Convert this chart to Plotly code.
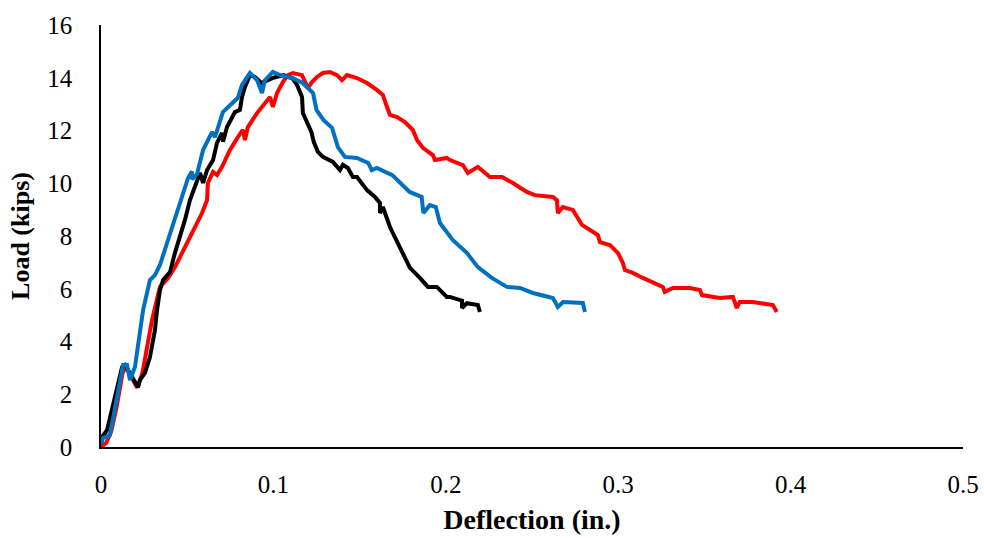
import plotly.graph_objects as go

# Black specimen
black_x = [0, 0.0006, 0.0035, 0.0064, 0.0093, 0.0122, 0.0139, 0.018, 0.0197, 0.0215, 0.0226, 0.0255, 0.0284,
           0.0313, 0.0325, 0.0342, 0.036, 0.040, 0.0429, 0.0458, 0.0487, 0.0516, 0.0574, 0.0592, 0.0615, 0.065,
           0.0673, 0.0702, 0.0708, 0.0731, 0.0777, 0.0806, 0.0818, 0.0835, 0.0864, 0.0893, 0.093, 0.100, 0.106,
           0.1079, 0.111, 0.1137, 0.1166, 0.1171, 0.120, 0.122, 0.1235, 0.1258, 0.1287, 0.1345, 0.1386, 0.1403,
           0.1432, 0.1461, 0.1485, 0.1543, 0.1589, 0.1618, 0.1618, 0.1635, 0.1676, 0.1734, 0.1792, 0.185,
           0.1896, 0.1948, 0.2006, 0.2024, 0.2094, 0.2094, 0.2122, 0.2186, 0.2198]
black_y = [0.1, 0.38, 0.64, 1.40, 2.27, 3.03, 3.11, 2.65, 2.43, 2.27, 2.54, 2.81, 3.41,
           4.44, 5.19, 5.95, 6.33, 6.63, 7.36, 7.96, 8.61, 9.36, 10.39, 10.01, 10.50, 10.88,
           11.53, 11.91, 11.57, 12.13, 12.70, 12.78, 13.27, 13.65, 14.10, 14.03, 13.80, 14.00, 14.10,
           14.03, 13.99, 13.73, 13.27, 12.66, 12.21, 11.95, 11.55, 11.19, 11.00, 10.81, 10.50, 10.70,
           10.58, 10.24, 10.24, 9.74, 9.48, 9.25, 8.87, 9.10, 8.34, 7.58, 6.79, 6.41,
           6.07, 6.07, 5.69, 5.69, 5.55, 5.27, 5.45, 5.38, 5.12]

# Blue specimen
blue_x = [0, 0.0012, 0.0052, 0.0081, 0.011, 0.0128, 0.0151, 0.0168, 0.0197, 0.0215, 0.0226, 0.0244, 0.0284,
          0.0313, 0.0342, 0.0383, 0.0418, 0.0458, 0.0505, 0.0528, 0.0528, 0.0557, 0.0592, 0.0644, 0.0661,
          0.0707, 0.0777, 0.0794, 0.0818, 0.0864, 0.0905, 0.0934, 0.0951, 0.0997, 0.1038, 0.1079, 0.111,
          0.117, 0.123, 0.125, 0.129, 0.134, 0.1374, 0.1415, 0.1485, 0.155, 0.1571, 0.160, 0.169, 0.179,
          0.186, 0.187, 0.1907, 0.1942, 0.1966, 0.204, 0.2122, 0.2186, 0.2267, 0.2354, 0.243, 0.2505,
          0.2621, 0.265, 0.268, 0.2795, 0.2807]
blue_y = [0.1, 0.34, 0.45, 1.40, 2.54, 3.11, 3.11, 2.54, 3.03, 3.94, 4.44, 5.19, 6.33,
          6.52, 6.90, 7.73, 8.49, 9.36, 10.20, 10.45, 10.15, 10.35, 11.26, 11.94, 11.75,
          12.70, 13.16, 13.24, 13.73, 14.18, 13.91, 13.42, 13.91, 14.22, 14.10, 14.03, 13.99,
          13.80, 13.42, 12.78, 12.40, 12.10, 11.37, 11.00, 10.96, 10.77, 10.50, 10.58, 10.31, 9.67,
          9.48, 8.87, 9.17, 9.10, 8.49, 7.85, 7.36, 6.82, 6.41, 6.07, 6.03, 5.84,
          5.65, 5.31, 5.50, 5.46, 5.12]

# Red specimen
red_x = [0, 0.003, 0.006, 0.009, 0.0125, 0.0145, 0.018, 0.021, 0.024, 0.0273, 0.0296, 0.0342, 0.0389,
         0.0429, 0.0487, 0.0534, 0.0586, 0.0615, 0.062, 0.065, 0.0673, 0.0702, 0.0748, 0.0794, 0.0823, 0.0835,
         0.0852, 0.0905, 0.0951, 0.098, 0.0997, 0.1021, 0.1055, 0.1084, 0.1113, 0.1166, 0.120, 0.1224,
         0.1253, 0.1287, 0.1328, 0.1369, 0.1398, 0.1427, 0.1485, 0.1543, 0.160, 0.1635, 0.1659, 0.1676,
         0.1717, 0.1763, 0.1809, 0.1833, 0.1867, 0.1925, 0.1937, 0.2006, 0.2024, 0.2099, 0.2128, 0.2186,
         0.2256, 0.2326, 0.2389, 0.247, 0.2517, 0.2621, 0.2644, 0.2650, 0.2679, 0.2737, 0.279, 0.2836,
         0.2882, 0.2894, 0.2952, 0.2998, 0.3027, 0.3039, 0.3085, 0.3143, 0.3201, 0.3259, 0.327, 0.3317,
         0.3416, 0.3474, 0.3486, 0.359, 0.3665, 0.3688, 0.3705, 0.3781, 0.3897, 0.392]
red_y = [0.0, 0.15, 0.6, 1.5, 2.8, 3.05, 2.6, 2.25, 2.8, 4.06, 4.82, 6.07, 6.41,
         6.82, 7.58, 8.23, 8.87, 9.36, 10.01, 10.43, 10.31, 10.62, 11.26, 11.75, 12.02, 11.64,
         12.13, 12.66, 13.04, 13.27, 12.89, 13.42, 13.84, 14.10, 14.18, 14.10, 13.61, 13.84,
         14.03, 14.18, 14.22, 14.10, 13.91, 14.10, 13.99, 13.80, 13.54, 13.35, 12.89, 12.59,
         12.51, 12.32, 12.02, 11.64, 11.34, 11.07, 10.88, 10.96, 10.88, 10.69, 10.39, 10.62,
         10.24, 10.24, 10.01, 9.67, 9.55, 9.48, 9.36, 8.87, 9.10, 8.99, 8.42, 8.23,
         8.04, 7.77, 7.66, 7.36, 6.98, 6.71, 6.60, 6.41, 6.26, 6.07, 5.88, 6.03,
         6.03, 5.95, 5.76, 5.65, 5.69, 5.27, 5.50, 5.50, 5.38, 5.12]

series = [
    ("Red", red_x, red_y, "#FF0000"),
    ("Black", black_x, black_y, "#000000"),
    ("Blue", blue_x, blue_y, "#0070C0"),
]

fig = go.Figure()
for name, xs, ys, col in series:
    fig.add_trace(go.Scatter(x=xs, y=ys, mode="lines", name=name,
                             line=dict(color=col, width=4)))

font_family = "Liberation Serif, Times New Roman, serif"
fig.update_layout(
    width=984, height=538,
    margin=dict(l=101, r=21, t=25, b=91),
    paper_bgcolor="white", plot_bgcolor="white",
    showlegend=False,
    font=dict(family=font_family, size=25, color="black"),
)
fig.update_xaxes(
    range=[0, 0.5], dtick=0.1, tickformat="~g",
    showgrid=False, zeroline=False, automargin=False,
    showline=True, linecolor="black", linewidth=2,
    ticks="", ticklabelstandoff=14,
    tickfont=dict(family=font_family, size=25, color="black"),
    title=dict(text="<b>Deflection (in.)</b>", standoff=12,
               font=dict(family=font_family, size=28, color="black")),
)
fig.update_yaxes(
    range=[0, 16], dtick=2,
    showgrid=False, zeroline=False, automargin=False,
    showline=True, linecolor="black", linewidth=1.5,
    ticks="", ticklabelstandoff=22,
    tickfont=dict(family=font_family, size=25, color="black"),
    title=dict(text="<b>Load (kips)</b>", standoff=10,
               font=dict(family=font_family, size=26, color="black")),
)

fig.write_html(
    "out.html",
    config={"displayModeBar": False},
    post_script="document.body.style.margin='0';document.body.style.padding='0';",
)
